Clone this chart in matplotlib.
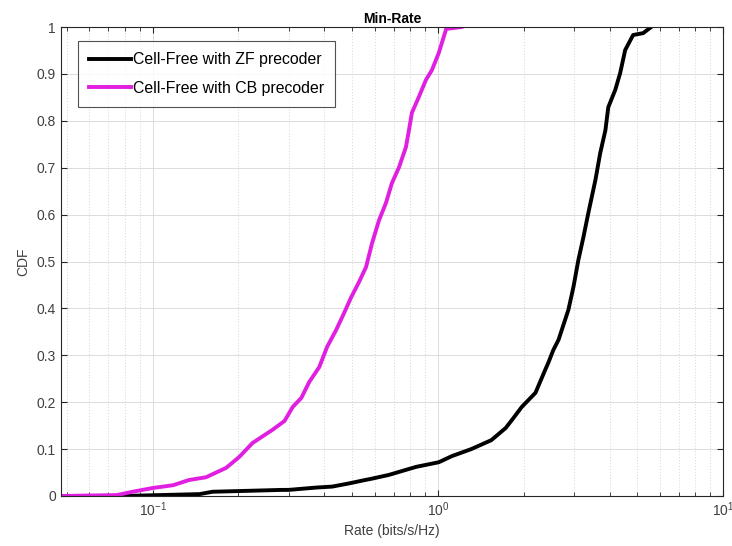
import numpy as np
import matplotlib.pyplot as plt

# CDF curves (rate in bits/s/Hz, cumulative probability)
rateZF = [0.0786, 0.146, 0.162, 0.285, 0.30, 0.375, 0.426, 0.49, 0.555, 0.588, 0.674,
          0.838, 1.008, 1.12, 1.31, 1.54, 1.73, 1.84, 1.97, 2.20, 2.38, 2.44, 2.54,
          2.65, 2.87, 2.99, 3.11, 3.24, 3.37, 3.57, 3.71, 3.87, 3.96, 4.19, 4.36,
          4.54, 4.84, 5.25, 5.6]
cdfZF = [0.0, 0.004, 0.009, 0.013, 0.013, 0.018, 0.02, 0.027, 0.034, 0.037, 0.045,
         0.062, 0.072, 0.085, 0.10, 0.119, 0.145, 0.166, 0.19, 0.22, 0.269, 0.284, 0.311,
         0.333, 0.397, 0.446, 0.503, 0.552, 0.603, 0.674, 0.731, 0.780, 0.829, 0.866, 0.902,
         0.951, 0.983, 0.987, 1.0]

rateCB = [0.0477, 0.075, 0.085, 0.1, 0.118, 0.134, 0.154, 0.181, 0.201, 0.224, 0.263,
          0.290, 0.310, 0.332, 0.354, 0.384, 0.409, 0.440, 0.469, 0.497, 0.529, 0.560,
          0.588, 0.622, 0.658, 0.690, 0.731, 0.773, 0.792, 0.811, 0.858, 0.908, 0.953,
          1.008, 1.07, 1.21]
cdfCB = [0.0, 0.002, 0.009, 0.017, 0.023, 0.034, 0.04, 0.06, 0.083, 0.113, 0.141,
         0.160, 0.190, 0.209, 0.243, 0.275, 0.318, 0.354, 0.390, 0.424, 0.456, 0.488,
         0.539, 0.588, 0.625, 0.667, 0.701, 0.744, 0.780, 0.817, 0.851, 0.887, 0.908,
         0.945, 0.996, 1.0]

yTicks = np.round(np.arange(0, 1.01, 0.1), 1)
yTickLabels = ["0"] + [f"{v:g}" for v in yTicks[1:-1]] + ["1"]

plt.rcParams['font.family'] = ['Liberation Sans', 'DejaVu Sans']

fig = plt.figure(figsize=(7.32, 5.46), dpi=100)
ax = fig.add_axes([0.0833, 0.0916, 0.9044, 0.8589])

ax.plot(rateZF, cdfZF, color='black', linewidth=2.8, label='Cell-Free with ZF precoder')
ax.plot(rateCB, cdfCB, color='#e01fe0', linewidth=2.8, label='Cell-Free with CB precoder')

ax.set_xscale('log')
ax.set_xlim(0.0477, 10)
ax.set_ylim(0, 1)
ax.set_yticks(yTicks)
ax.set_yticklabels(yTickLabels)

gridCol = '#dcdcdc'
ax.grid(True, which='major', color=gridCol, linestyle='-', linewidth=0.7)
ax.grid(True, which='minor', axis='x', color=gridCol, linestyle=':', linewidth=0.8)
ax.set_axisbelow(True)

ax.tick_params(which='both', direction='in', top=True, right=True, colors='#262626',
               labelcolor='#404040', labelsize=10)
ax.tick_params(which='major', length=4)
ax.tick_params(which='minor', length=3)
for s in ax.spines.values():
    s.set_color('#262626')
    s.set_linewidth(0.8)

ax.set_title('Min-Rate', fontsize=10, fontweight='bold', pad=3)
ax.set_xlabel('Rate (bits/s/Hz)', fontsize=10, color='#404040', labelpad=3)
ax.set_ylabel('CDF', fontsize=10, color='#404040', labelpad=5)

leg = ax.legend(loc='upper left', bbox_to_anchor=(0.025, 0.97), fontsize=11.4,
                frameon=True, fancybox=False, handlelength=2.7, handletextpad=0.1,
                borderpad=0.7, labelspacing=0.85, borderaxespad=0)
leg.get_frame().set_edgecolor('#262626')
leg.get_frame().set_linewidth(0.8)

fig.savefig('out.png', dpi=100)
